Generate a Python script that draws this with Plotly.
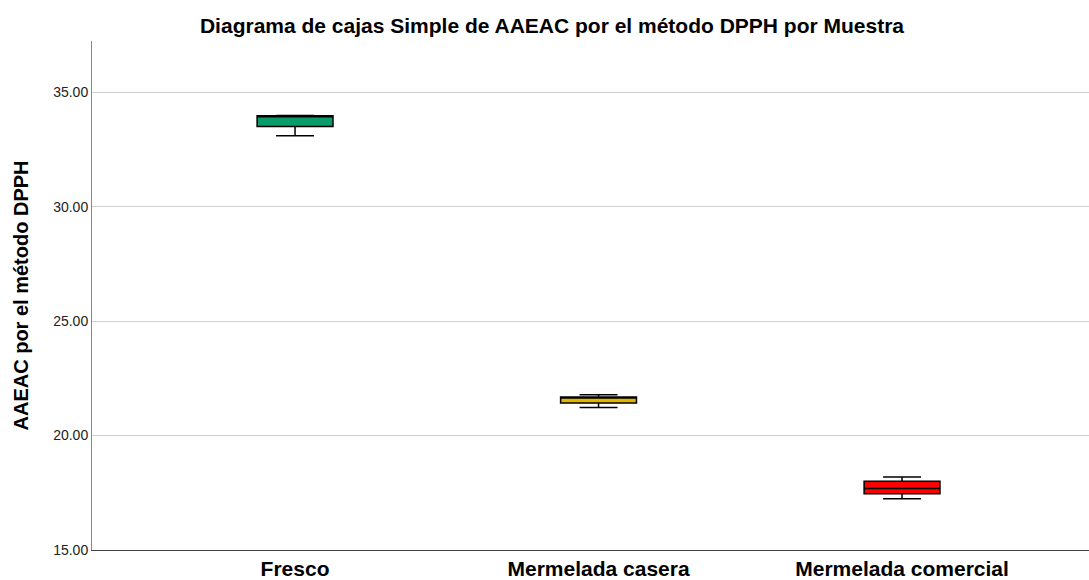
import plotly.graph_objects as go

categories = ["Fresco", "Mermelada casera", "Mermelada comercial"]
mins = [33.10, 21.23, 17.24]
q1s = [33.50, 21.42, 17.46]
medians = [33.93, 21.66, 17.69]
q3s = [33.97, 21.69, 18.00]
maxs = [33.99, 21.78, 18.19]
colors = ["#0A9B6B", "#E0B400", "#FF0000"]
y_ticks = [15, 20, 25, 30, 35]

fig = go.Figure()
for i, c in enumerate(categories):
    fig.add_trace(go.Box(
        x=[c], q1=[q1s[i]], median=[medians[i]], q3=[q3s[i]],
        lowerfence=[mins[i]], upperfence=[maxs[i]],
        fillcolor=colors[i], line=dict(color="black", width=1.5),
        width=0.25, whiskerwidth=0.5, boxpoints=False, showlegend=False,
        hoverinfo="skip",
    ))

W, H = 1089, 580
L, R, T, B = 92, 0, 41, 30
fig.update_layout(
    width=W, height=H,
    margin=dict(l=L, r=R, t=T, b=B),
    paper_bgcolor="white", plot_bgcolor="white",
    font=dict(family="Arial, Liberation Sans, sans-serif", color="#000000"),
    title=dict(text="<b>Diagrama de cajas Simple de AAEAC por el método DPPH por Muestra</b>",
               x=552 / W, xanchor="center", y=1 - 26 / H, yanchor="middle",
               font=dict(size=21, color="#000000")),
    xaxis=dict(type="category", range=[-0.669, 2.616], showgrid=False,
               showline=True, linecolor="#444444", linewidth=1,
               ticks="", tickfont=dict(size=21), zeroline=False,
               tickvals=categories, ticktext=["<b>%s</b>" % c for c in categories]),
    yaxis=dict(range=[15, 37.24], tickvals=y_ticks, tickformat=".2f",
               showgrid=True, gridcolor="#CFCFCF", gridwidth=1,
               showline=True, linecolor="#888888", linewidth=1,
               ticks="", tickfont=dict(size=14, color="#222222"), zeroline=False),
    annotations=[dict(text="<b>AAEAC por el método DPPH</b>", textangle=-90,
                      xref="paper", yref="paper", x=(20 - L) / (W - L - R), y=0.5,
                      xanchor="center", yanchor="middle", showarrow=False,
                      font=dict(size=20, color="#000000"))],
)

fig.write_html("out.html", config={"displayModeBar": False},
               post_script="document.body.style.margin='0';document.body.style.overflow='hidden';")
